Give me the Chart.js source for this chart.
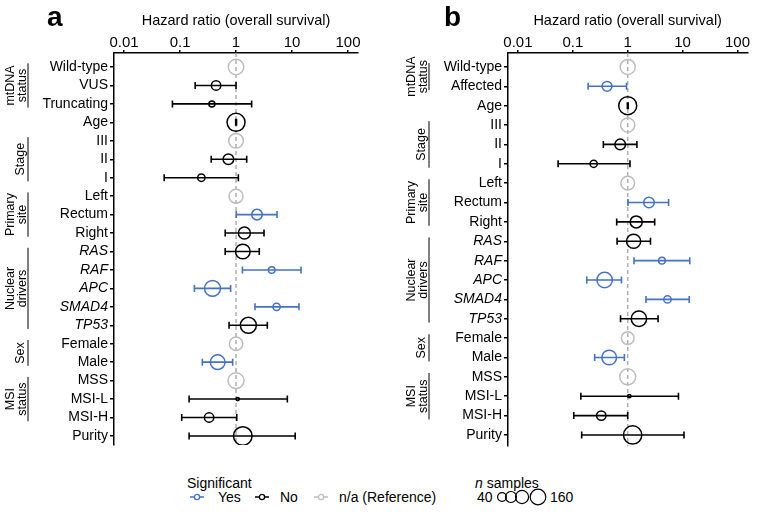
<!DOCTYPE html>
<html>
<head>
<meta charset="utf-8">
<script src="https://cdn.jsdelivr.net/npm/chart.js@4.4.0/dist/chart.umd.min.js"></script>
<style>
  body { margin: 0; background: #fff; font-family: "Liberation Sans", Arial, sans-serif; color: #000; }
  #wrap { position: relative; width: 758px; height: 517px; overflow: hidden; }
  canvas { position: absolute; top: 0; }
  .letter { position: absolute; font-weight: bold; font-size: 28px; line-height: 28px; }
  .leg { position: absolute; font-size: 14px; line-height: 16px; white-space: nowrap; }
  svg { position: absolute; }
</style>
</head>
<body>
<div id="wrap">
  <canvas id="panelA" width="380" height="460" style="left:0"></canvas>
  <canvas id="panelB" width="378" height="460" style="left:380px"></canvas>
  <div class="letter" style="left:47px;top:3px">a</div>
  <div class="letter" style="left:444px;top:3px">b</div>

  <div class="leg" style="left:187px;top:475px">Significant</div>
  <svg style="left:189px;top:492px" width="16" height="10"><line x1="1" y1="5" x2="15" y2="5" stroke="#4472c4" stroke-width="1.5"/><circle cx="8" cy="5" r="2.6" fill="#fff" stroke="#4472c4" stroke-width="1.3"/></svg>
  <div class="leg" style="left:218px;top:489px">Yes</div>
  <svg style="left:254px;top:492px" width="16" height="10"><line x1="1" y1="5" x2="15" y2="5" stroke="#000" stroke-width="1.5"/><circle cx="8" cy="5" r="2.6" fill="#fff" stroke="#000" stroke-width="1.3"/></svg>
  <div class="leg" style="left:280px;top:489px">No</div>
  <svg style="left:313px;top:492px" width="16" height="10"><line x1="1" y1="5" x2="15" y2="5" stroke="#bdbdbd" stroke-width="1.5"/><circle cx="8" cy="5" r="2.6" fill="#fff" stroke="#bdbdbd" stroke-width="1.3"/></svg>
  <div class="leg" style="left:339px;top:489px">n/a (Reference)</div>

  <div class="leg" style="left:475px;top:475px"><i>n</i> samples</div>
  <div class="leg" style="left:477px;top:489px">40</div>
  <svg style="left:496px;top:488px" width="54" height="18">
    <circle cx="6" cy="9" r="4.4" fill="none" stroke="#000" stroke-width="1.2"/>
    <circle cx="15" cy="9" r="5.5" fill="none" stroke="#000" stroke-width="1.2"/>
    <circle cx="26" cy="9" r="6.6" fill="none" stroke="#000" stroke-width="1.2"/>
    <circle cx="42" cy="9" r="7.8" fill="none" stroke="#000" stroke-width="1.2"/>
  </svg>
  <div class="leg" style="left:550px;top:489px">160</div>
</div>

<script>
const BLUE = '#4472c4';
const GREY = '#bdbdbd';
const FONT = '"Liberation Sans", Arial, sans-serif';

const xTicks = [0.01, 0.1, 1, 10, 100];
const genes = ['RAS', 'RAF', 'APC', 'SMAD4', 'TP53'];

// panel a: mtDNA status split into VUS / truncating
const labelsA = ['Wild-type', 'VUS', 'Truncating', 'Age', 'III', 'II', 'I', 'Left', 'Rectum', 'Right',
  'RAS', 'RAF', 'APC', 'SMAD4', 'TP53', 'Female', 'Male', 'MSS', 'MSI-L', 'MSI-H', 'Purity'];
const hrA = [1, 0.44, 0.37, 1.0, 1, 0.73, 0.24, 1, 2.37, 1.41, 1.32, 4.34, 0.38, 5.3, 1.66, 1, 0.47, 1, 1.07, 0.33, 1.32];
const loA = [null, 0.186, 0.073, 0.985, null, 0.36, 0.052, null, 1.01, 0.64, 0.64, 1.3, 0.18, 2.18, 0.75, null, 0.25, null, 0.145, 0.107, 0.145];
const hiA = [null, 1.0, 1.9, 1.02, null, 1.55, 1.1, null, 5.4, 3.16, 2.6, 14.5, 0.8, 13.3, 3.62, null, 0.87, null, 8.25, 1.03, 11.4];
const nA = [110, 41, 17, 150, 99, 52, 25, 91, 52, 67, 99, 20, 118, 25, 118, 83, 99, 118, 5, 41, 160];
const sigA = ['ref', 'no', 'no', 'no', 'ref', 'no', 'no', 'ref', 'yes', 'no', 'no', 'yes', 'yes', 'yes', 'no', 'ref', 'yes', 'ref', 'no', 'no', 'no'];
const groupsA = [
  { lines: ['mtDNA', 'status'], from: 0, to: 2 },
  { lines: ['Stage'], from: 4, to: 6 },
  { lines: ['Primary', 'site'], from: 7, to: 9 },
  { lines: ['Nuclear', 'drivers'], from: 10, to: 14 },
  { lines: ['Sex'], from: 15, to: 16 },
  { lines: ['MSI', 'status'], from: 17, to: 19 },
];

// panel b: mtDNA status as wild-type / affected
const labelsB = ['Wild-type', 'Affected', 'Age', 'III', 'II', 'I', 'Left', 'Rectum', 'Right',
  'RAS', 'RAF', 'APC', 'SMAD4', 'TP53', 'Female', 'Male', 'MSS', 'MSI-L', 'MSI-H', 'Purity'];
const hrB = [1, 0.42, 1.0, 1, 0.73, 0.24, 1, 2.44, 1.43, 1.28, 4.2, 0.38, 5.3, 1.6, 1, 0.46, 1, 1.07, 0.33, 1.23];
const loB = [null, 0.19, 0.985, null, 0.36, 0.054, null, 1.01, 0.63, 0.64, 1.3, 0.18, 2.15, 0.74, null, 0.25, null, 0.14, 0.104, 0.145];
const hiB = [null, 0.95, 1.02, null, 1.47, 1.1, null, 5.55, 3.1, 2.6, 13.5, 0.77, 13.2, 3.57, null, 0.87, null, 8.4, 1.0, 10.6];
const nB = [105, 45, 150, 93, 52, 24, 87, 52, 67, 93, 20, 110, 25, 110, 75, 99, 118, 5, 41, 155];
const sigB = ['ref', 'yes', 'no', 'ref', 'no', 'no', 'ref', 'yes', 'no', 'no', 'yes', 'yes', 'yes', 'no', 'ref', 'yes', 'ref', 'no', 'no', 'no'];
const groupsB = [
  { lines: ['mtDNA', 'status'], from: 0, to: 1 },
  { lines: ['Stage'], from: 3, to: 5 },
  { lines: ['Primary', 'site'], from: 6, to: 8 },
  { lines: ['Nuclear', 'drivers'], from: 9, to: 13 },
  { lines: ['Sex'], from: 14, to: 15 },
  { lines: ['MSI', 'status'], from: 16, to: 18 },
];

const colorOf = { yes: BLUE, no: '#000', ref: GREY };

function radius(n) {
  return 9.3 * Math.sqrt(n / 160);
}

/**
 * forest plot for one panel
 * @param {HTMLCanvasElement} canvas
 */
function drawForest(canvas, labels, hr, lo, hi, n, sig, groups, lay) {
  const datasets = ['ref', 'no', 'yes'].map((s) => ({
    label: s,
    data: labels.map((_, i) => ({ x: hr[i], y: i })).filter((p) => sig[p.y] === s),
    pointRadius: (ctx) => radius(n[ctx.raw.y]),
    pointHoverRadius: (ctx) => radius(n[ctx.raw.y]),
    pointBackgroundColor: 'rgba(0,0,0,0)',
    pointBorderColor: colorOf[s],
    pointBorderWidth: 1.5,
    showLine: false,
  }));

  const extras = {
    id: 'forestExtras',
    beforeDatasetsDraw(chart) {
      const { ctx, chartArea, scales } = chart;
      const x1 = scales.x.getPixelForValue(1);
      ctx.save();
      ctx.strokeStyle = '#b0b0b0';
      ctx.lineWidth = 1.5;
      ctx.setLineDash([4, 3]);
      ctx.beginPath();
      ctx.moveTo(x1, chartArea.top);
      ctx.lineTo(x1, chartArea.bottom);
      ctx.stroke();
      ctx.setLineDash([]);
      labels.forEach((_, i) => {
        if (lo[i] == null) return;
        const y = scales.y.getPixelForValue(i);
        const a = scales.x.getPixelForValue(lo[i]);
        const b = scales.x.getPixelForValue(hi[i]);
        ctx.strokeStyle = colorOf[sig[i]];
        ctx.lineWidth = 1.6;
        ctx.beginPath();
        ctx.moveTo(a, y); ctx.lineTo(b, y);
        ctx.moveTo(a, y - 3.5); ctx.lineTo(a, y + 3.5);
        ctx.moveTo(b, y - 3.5); ctx.lineTo(b, y + 3.5);
        ctx.stroke();
      });
      ctx.restore();
    },
    afterDraw(chart) {
      const { ctx, scales } = chart;
      ctx.save();
      ctx.strokeStyle = '#000';
      ctx.lineWidth = 1;
      ctx.fillStyle = '#000';
      ctx.font = '12.5px ' + FONT;
      ctx.textAlign = 'center';
      ctx.textBaseline = 'middle';
      groups.forEach((g) => {
        const top = scales.y.getPixelForValue(g.from - 0.2);
        const bot = scales.y.getPixelForValue(g.to + 0.2);
        ctx.beginPath();
        ctx.moveTo(lay.groupX, top);
        ctx.lineTo(lay.groupX, bot);
        ctx.stroke();
        const cy = (top + bot) / 2;
        g.lines.forEach((t, k) => {
          const cx = g.lines.length === 1 ? lay.groupX - 8 : lay.groupX - 6 - 12 * (g.lines.length - 1 - k);
          ctx.save();
          ctx.translate(cx + 1, cy);
          ctx.rotate(-Math.PI / 2);
          ctx.fillText(t, 0, 0);
          ctx.restore();
        });
      });
      ctx.restore();
    },
  };

  return new Chart(canvas, {
    type: 'scatter',
    data: { datasets },
    plugins: [extras],
    options: {
      responsive: false,
      animation: false,
      events: [],
      layout: { padding: { left: 0, top: 0, right: lay.padR, bottom: lay.padB } },
      plugins: { legend: { display: false }, tooltip: { enabled: false } },
      scales: {
        x: {
          type: 'logarithmic',
          position: 'top',
          min: 0.0066,
          max: 151,
          afterBuildTicks: (scale) => { scale.ticks = xTicks.map((v) => ({ value: v })); },
          afterFit: (scale) => { scale.height = 53; },
          ticks: {
            color: '#000',
            padding: -2,
            font: { family: FONT, size: 15 },
            callback: (v) => String(v),
          },
          grid: { drawOnChartArea: false, drawTicks: true, tickLength: 3, color: '#000', lineWidth: 1.5 },
          border: { display: true, color: '#000', width: 1.5 },
          title: {
            display: true,
            text: 'Hazard ratio (overall survival)',
            color: '#000',
            font: { family: FONT, size: 14.5 },
            padding: { top: 12, bottom: 0 },
          },
        },
        y: {
          type: 'linear',
          reverse: true,
          min: lay.yMin,
          max: lay.yMax,
          afterBuildTicks: (scale) => { scale.ticks = labels.map((_, i) => ({ value: i })); },
          afterFit: (scale) => { scale.width = lay.axisW; },
          ticks: {
            autoSkip: false,
            color: '#000',
            padding: 2,
            font: (ctx) => ({ family: FONT, size: 14, style: genes.includes(labels[ctx.index]) ? 'italic' : 'normal' }),
            callback: (v) => labels[v],
          },
          grid: { drawOnChartArea: false, drawTicks: true, tickLength: 4, color: '#000', lineWidth: 1.5 },
          border: { display: true, color: '#000', width: 1.5 },
        },
      },
    },
  });
}

drawForest(document.getElementById('panelA'), labelsA, hrA, loA, hiA, nA, sigA, groupsA,
  { axisW: 114, padR: 22, padB: 15, yMin: -0.76, yMax: 20.49, groupX: 28 });
drawForest(document.getElementById('panelB'), labelsB, hrB, loB, hiB, nB, sigB, groupsB,
  { axisW: 128, padR: 5, padB: 14, yMin: -0.72, yMax: 19.57, groupX: 49 });
</script>
</body>
</html>
